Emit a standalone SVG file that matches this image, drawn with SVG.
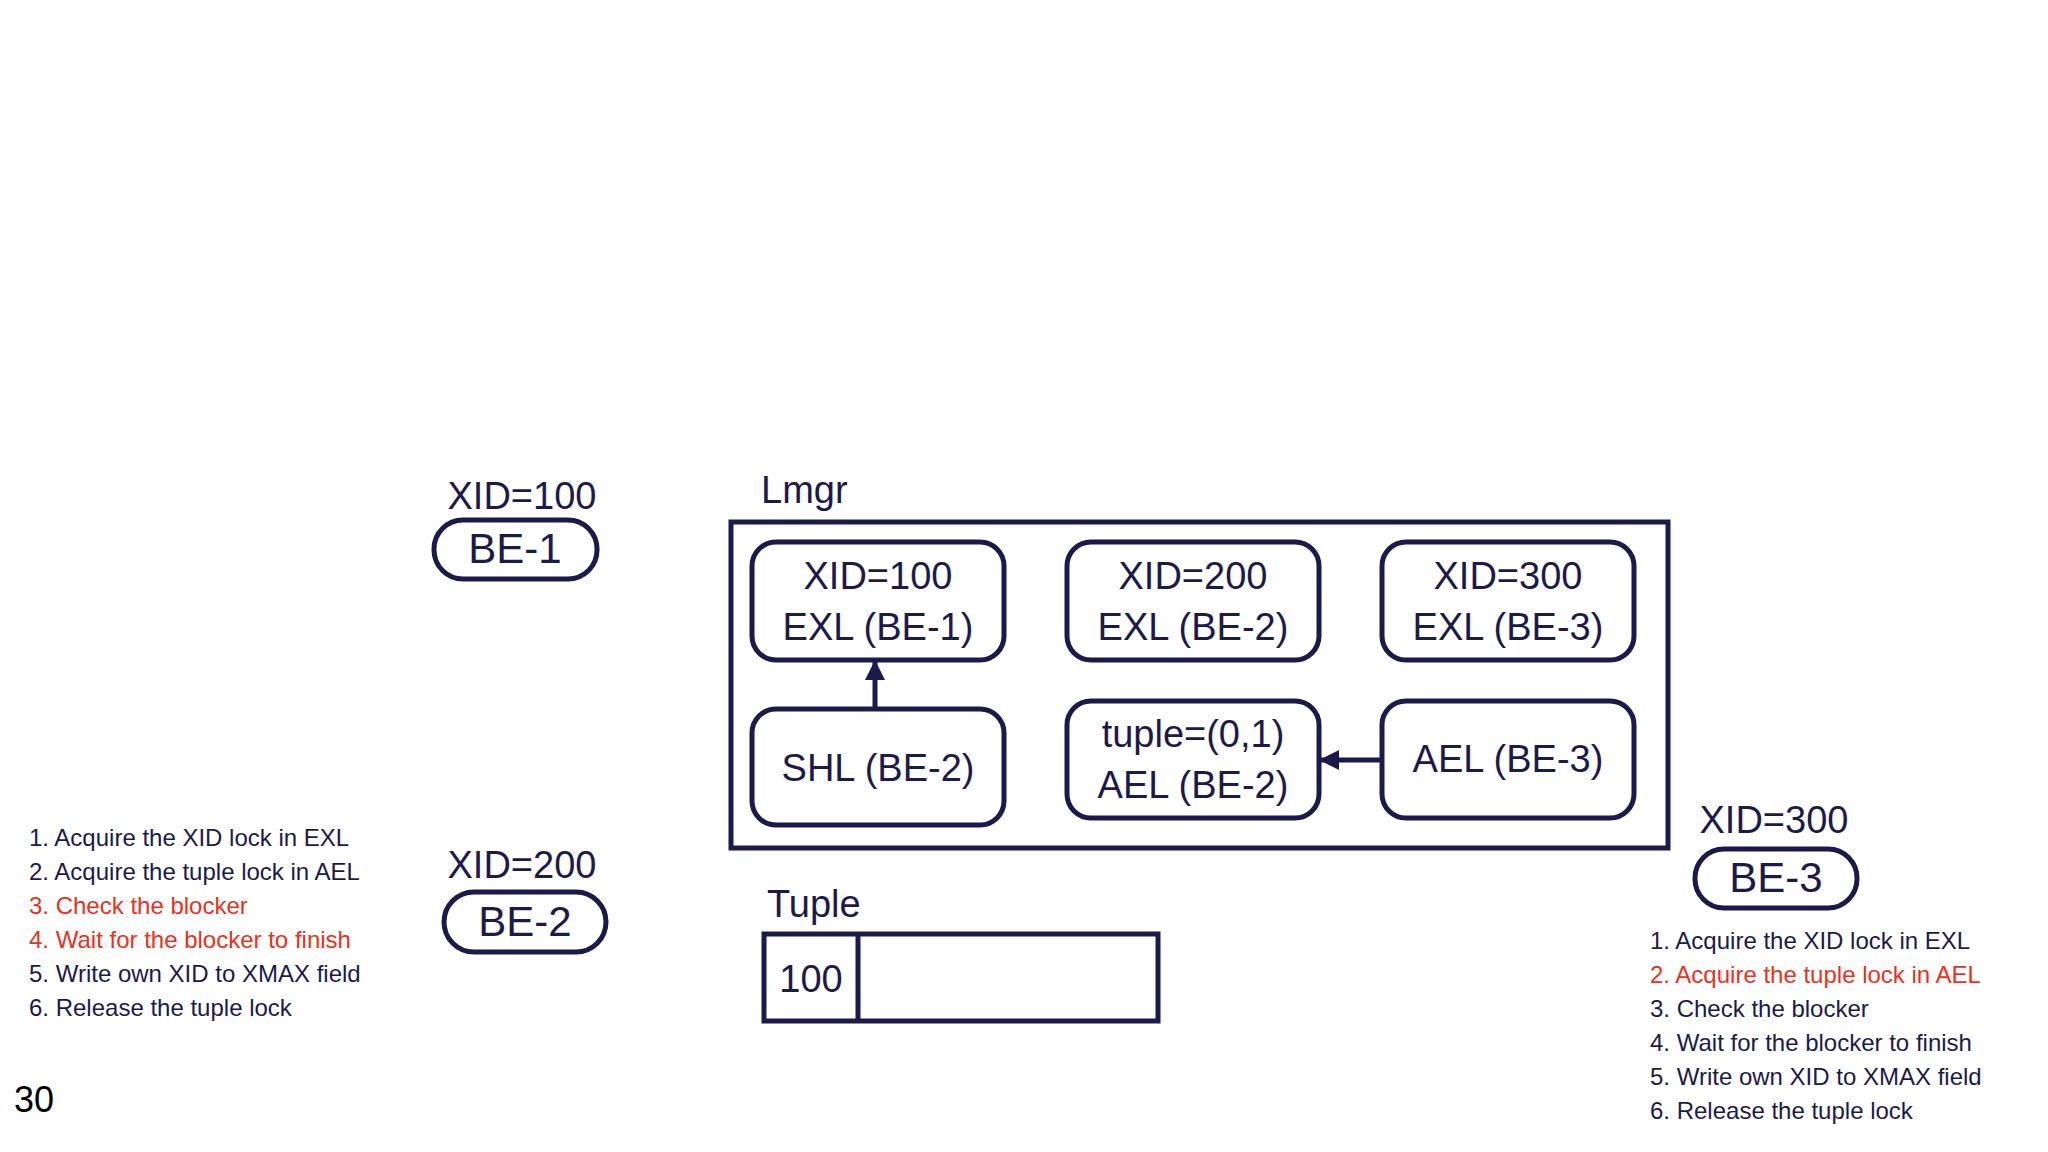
<svg xmlns="http://www.w3.org/2000/svg" width="2048" height="1152" viewBox="0 0 2048 1152">
<style>
text{font-family:"Liberation Sans",Arial,sans-serif;fill:#1c1a4a}
.n{fill:#fff;stroke:#1c1a4a;stroke-width:5}
.t{font-size:38px;text-anchor:middle}
.l{font-size:24px}
.r{fill:#e8321e}
.c{stroke:#1c1a4a;stroke-width:5;fill:none}
</style>
<defs><marker id="a" viewBox="0 0 10 10" refX="9" refY="5" markerWidth="4" markerHeight="4" orient="auto"><path d="M0,0L10,5L0,10z" fill="#1c1a4a"/></marker></defs>
<rect width="2048" height="1152" fill="#fff"/>
<g id="be1"><text class="t" x="522" y="509">XID=100</text><rect class="n" x="434" y="520" width="163" height="59" rx="29"/><text class="t" x="515" y="563" style="font-size:42px">BE-1</text></g>
<g id="be2"><text class="t" x="522" y="878">XID=200</text><rect class="n" x="444" y="892" width="162" height="60" rx="30"/><text class="t" x="525" y="936" style="font-size:42px">BE-2</text></g>
<g id="be3"><text class="t" x="1774" y="833">XID=300</text><rect class="n" x="1695" y="849" width="162" height="59" rx="29"/><text class="t" x="1776" y="892" style="font-size:42px">BE-3</text></g>
<g id="lmgr"><text class="t" x="761" y="503" style="text-anchor:start">Lmgr</text><rect x="731" y="522" width="937" height="326" fill="none" stroke="#1c1a4a" stroke-width="5"/></g>
<g id="x100"><rect class="n" x="752" y="542" width="252" height="118" rx="24"/><text class="t" x="878" y="589">XID=100</text><text class="t" x="878" y="640">EXL (BE-1)</text></g>
<g id="x200"><rect class="n" x="1067" y="542" width="252" height="118" rx="24"/><text class="t" x="1193" y="589">XID=200</text><text class="t" x="1193" y="640">EXL (BE-2)</text></g>
<g id="x300"><rect class="n" x="1382" y="542" width="252" height="118" rx="24"/><text class="t" x="1508" y="589">XID=300</text><text class="t" x="1508" y="640">EXL (BE-3)</text></g>
<g id="shl"><rect class="n" x="752" y="709" width="252" height="116" rx="24"/><text class="t" x="878" y="781">SHL (BE-2)</text></g>
<g id="tup"><rect class="n" x="1067" y="701" width="252" height="117" rx="24"/><text class="t" x="1193" y="747">tuple=(0,1)</text><text class="t" x="1193" y="798">AEL (BE-2)</text></g>
<g id="ael3"><rect class="n" x="1382" y="701" width="252" height="117" rx="24"/><text class="t" x="1508" y="772">AEL (BE-3)</text></g>
<g id="connectors"><line class="c" x1="875" y1="709" x2="875" y2="662" marker-end="url(#a)"/><line class="c" x1="1382" y1="760" x2="1321" y2="760" marker-end="url(#a)"/></g>
<g id="tuple"><text class="t" x="767" y="917" style="text-anchor:start">Tuple</text><rect x="764" y="934" width="394" height="87" fill="none" stroke="#1c1a4a" stroke-width="5"/><line class="c" x1="858" y1="934" x2="858" y2="1021"/><text class="t" x="811" y="992">100</text></g>
<g id="left" class="l"><text class="l" x="29" y="846">1. Acquire the XID lock in EXL</text><text class="l" x="29" y="880">2. Acquire the tuple lock in AEL</text><text class="l r" x="29" y="914">3. Check the blocker</text><text class="l r" x="29" y="948">4. Wait for the blocker to finish</text><text class="l" x="29" y="982">5. Write own XID to XMAX field</text><text class="l" x="29" y="1016">6. Release the tuple lock</text></g>
<g id="right"><text class="l" x="1650" y="949">1. Acquire the XID lock in EXL</text><text class="l r" x="1650" y="983">2. Acquire the tuple lock in AEL</text><text class="l" x="1650" y="1017">3. Check the blocker</text><text class="l" x="1650" y="1051">4. Wait for the blocker to finish</text><text class="l" x="1650" y="1085">5. Write own XID to XMAX field</text><text class="l" x="1650" y="1119">6. Release the tuple lock</text></g>
<text x="14" y="1112" style="font-size:36px;fill:#000">30</text>
</svg>
